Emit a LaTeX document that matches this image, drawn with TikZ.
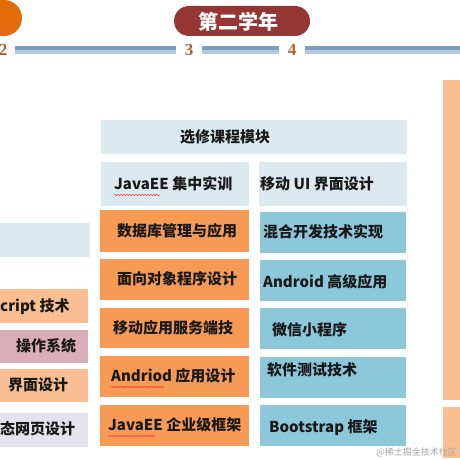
\documentclass[tikz,border=0pt]{standalone}
\usepackage{fontspec}
\setmainfont{Noto Sans CJK SC}
\newfontfamily\numfont{Liberation Serif}
\usetikzlibrary{decorations.pathmorphing}
\definecolor{pale}{HTML}{DCEAF0}
\definecolor{carrot}{HTML}{F79A55}
\definecolor{skyblue}{HTML}{8DC8DA}
\definecolor{peach}{HTML}{F9BE92}
\definecolor{rose}{HTML}{D9AEB8}
\definecolor{lilac}{HTML}{E3E2EE}
\definecolor{wine}{HTML}{943634}
\definecolor{pumpkin}{HTML}{E46C0A}
\definecolor{barhi}{HTML}{7B9DBF}
\definecolor{barlo}{HTML}{B4C9DF}
\definecolor{numbrown}{HTML}{B0612E}
\tikzset{
  lbl/.style={anchor=west,inner sep=0pt,text=black!90,font=\fontsize{15}{15}\selectfont\bfseries},
  yearnum/.style={inner sep=0pt,text=numbrown,font=\numfont\fontsize{17}{17}\selectfont\bfseries},
  squiggle/.style={red!80,line width=0.5pt,decorate,decoration={snake,amplitude=0.7pt,segment length=3pt}}
}
\begin{document}
\begin{tikzpicture}[x=1pt,y=-1pt]
\useasboundingbox(0,0)rectangle(460,460);
\clip(0,0)rectangle(460,460);
\fill[white](0,0)rectangle(460,460);
% timeline
\fill[pumpkin,rounded corners=18pt](-100,0)rectangle(22,36);
\fill[wine,rounded corners=15pt](174,6)rectangle(310,36);
\node[text=white,inner sep=0pt,font=\fontsize{20}{20}\selectfont\bfseries](year)at(238,22){第二学年};
\foreach \a/\b in {15/176,202/279,305/470}{
\fill[barhi](\a,46)rectangle(\b,50);\fill[barlo](\a,50)rectangle(\b,54);}
\node[yearnum](n2)at(3,50){2};
\node[yearnum](n3)at(189,50){3};
\node[yearnum](n4)at(292,50){4};
% right edge
\fill[peach](443,80)rectangle(470,400);
\fill[peach](443,407)rectangle(470,458);
% left column
\fill[pale](-5,223)rectangle(90,257);
\foreach \t/\c/\ya/\yb/\tx/\ty in {cript 技术/peach/289/323/0/307,操作系统/rose/330/363/16/346,界面设计/peach/369/402/8/385,态网页设计/lilac/413/447/0/429}{
\fill[\c](-5,\ya)rectangle(88,\yb);\node[lbl](l\ya)at(\tx,\ty){\t};}
% elective module
\fill[pale](101,120)rectangle(407,154);
\node[lbl](head)at(180,137){选修课程模块};
\fill[pale](101,162)rectangle(249,206);
\fill[pale](259,162)rectangle(407,206);
\node[lbl](je)at(114,184){JavaEE 集中实训};
\node[lbl](ui)at(260,184){移动 UI 界面设计};
\foreach \t/\ya/\yb/\tx/\ty in {数据库管理与应用/210/252/117/231,面向对象程序设计/259/300/117/279,移动应用服务端技/308/348/113/328,Andriod 应用设计/356/397/111/376,JavaEE 企业级框架/405/446/108/425}{
\fill[carrot](100,\ya)rectangle(249,\yb);\node[lbl](o\ya)at(\tx,\ty){\t};}
\foreach \t/\ya/\yb/\tx/\ty in {混合开发技术实现/212/253/263/232,Android 高级应用/260/301/263/282,微信小程序/308/349/272/330,软件测试技术/357/398/267/370,Bootstrap 框架/405/446/269/428}{
\fill[skyblue](260,\ya)rectangle(406,\yb);\node[lbl](b\ya)at(\tx,\ty){\t};}
% spell marks
\draw[squiggle](114,195)--(160,195);
\draw[squiggle](111,387)--(164,387);
\draw[squiggle](108,436)--(155,436);
\node[anchor=east,inner sep=0pt,text=black!35,font=\fontsize{9}{9}\selectfont](mark)at(457,452){@稀土掘金技术社区};
\end{tikzpicture}
\end{document}
